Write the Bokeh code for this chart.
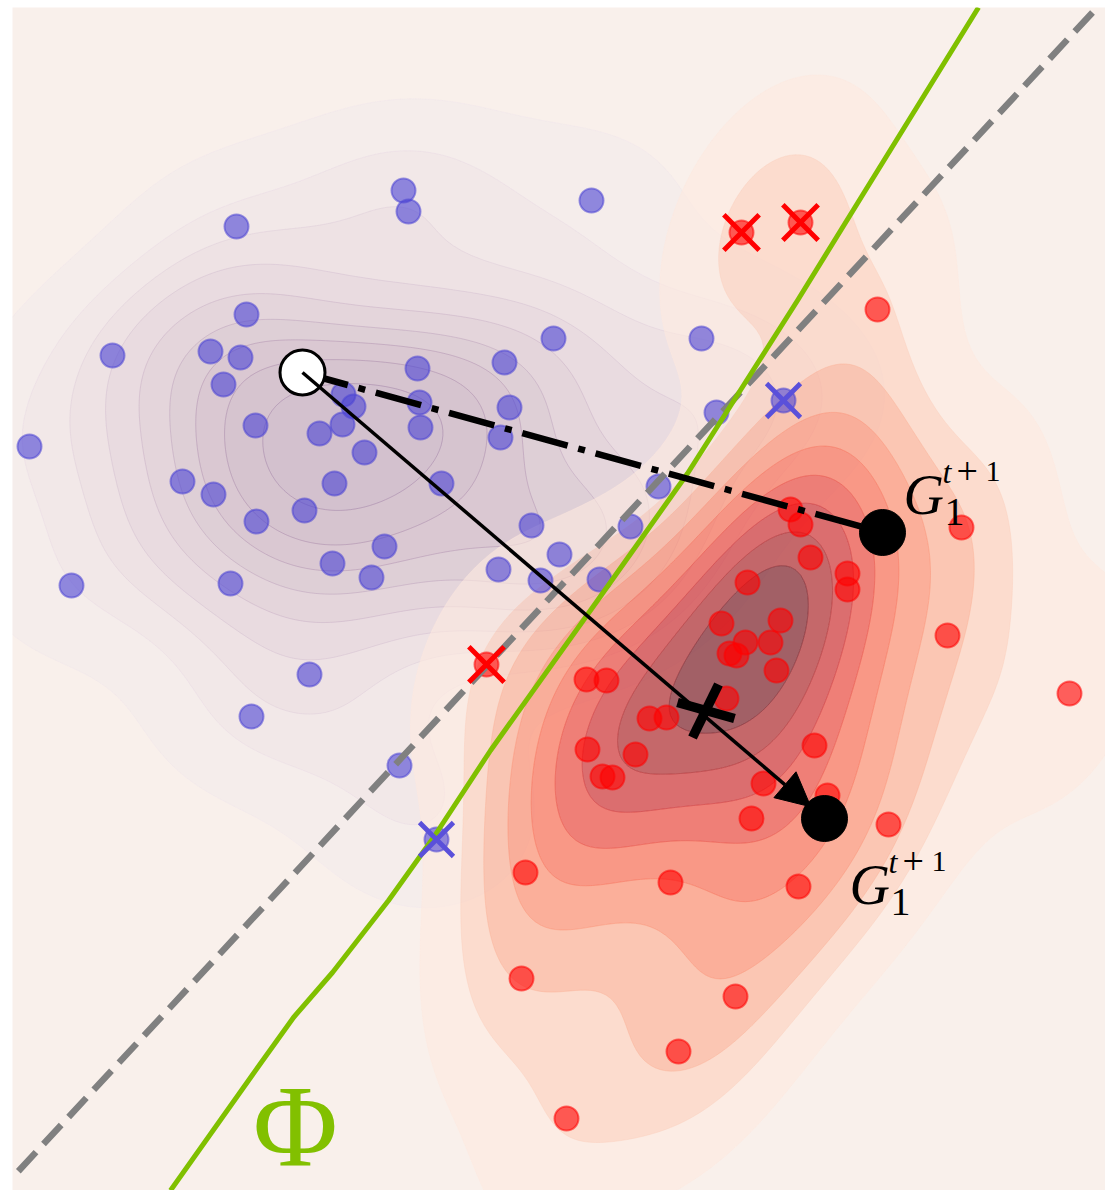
import numpy as np
from bokeh.plotting import figure
from bokeh.models import Range1d, Arrow, NormalHead
from bokeh.core.properties import value
from bokeh.embed import file_html
from bokeh.resources import INLINE

# ---------------- data (pixel-like units, y downwards) ----------------
blue_x = [403, 408, 591, 236, 246, 112, 210, 240, 223, 417, 504, 553, 701, 343, 353, 419,
          509, 255, 319, 342, 420, 500, 364, 29, 182, 213, 334, 441, 304, 256, 384, 332,
          371, 531, 559, 498, 540, 71, 230, 716, 658, 630, 599, 309, 251, 399]
blue_y = [190, 211, 200, 226, 314, 355, 351, 357, 384, 368, 362, 338, 338, 394, 406, 402,
          407, 425, 433, 424, 427, 437, 452, 446, 481, 494, 483, 483, 510, 521, 546, 563,
          577, 525, 554, 569, 580, 585, 583, 412, 486, 526, 579, 674, 716, 765]
blue_miss_x = [783, 436]
blue_miss_y = [400, 839]

red_x = [877, 961, 790, 800, 810, 847, 847, 747, 721, 780, 745, 770, 729, 736, 776, 586,
         606, 726, 649, 666, 587, 635, 814, 602, 612, 763, 827, 751, 888, 947, 1069, 670,
         798, 525, 521, 735, 678, 566]
red_y = [309, 527, 509, 524, 557, 573, 589, 582, 623, 620, 642, 642, 653, 655, 670, 679,
         680, 698, 718, 717, 749, 754, 745, 776, 777, 783, 795, 818, 824, 635, 693, 882,
         886, 872, 978, 996, 1051, 1118]
red_miss_x = [741, 800, 486]
red_miss_y = [232, 222, 664]

old_center_x = [302]
old_center_y = [372]
new_center_x = [882, 824]
new_center_y = [532, 818]
centroid_x = [703]
centroid_y = [710]

boundary_x = [978, 863, 797, 687, 597, 490, 433, 388, 332, 293, 260, 170]
boundary_y = [7, 193, 300, 473, 600, 750, 837, 900, 972, 1017, 1063, 1190]
prior_x = [1092, 12]
prior_y = [12, 1177]

REDS = ["#fff5f0", "#fee0d2", "#fcbba1", "#fc9272", "#fb6a4a", "#ef3b2c", "#cb181d", "#a50f15", "#67000d"]
MAUVES = ["#f2ecf2", "#e8dce7", "#d8c4d8", "#c6abc8", "#b293b6", "#9d7aa3", "#895f91", "#7a4f86", "#704380"]


def interp(anchors, t):
    rgb = np.array([[int(c[i:i + 2], 16) for i in (1, 3, 5)] for c in anchors], float)
    t = min(max(float(t), 0.0), 1.0)
    pos = t * (len(anchors) - 1)
    i = min(int(pos), len(anchors) - 2)
    f = pos - i
    c = rgb[i] * (1 - f) + rgb[i + 1] * f
    return "#%02x%02x%02x" % tuple(int(round(v)) for v in c)


def kde_grid(px, py, gx, gy, adjust):
    pts = np.vstack([px, py]).astype(float)
    n = pts.shape[1]
    factor = n ** (-1.0 / 6.0) * adjust
    cov = np.cov(pts) * factor ** 2
    inv = np.linalg.inv(cov)
    norm = 1.0 / (2 * np.pi * np.sqrt(np.linalg.det(cov)) * n)
    X, Y = np.meshgrid(gx, gy)
    dx = X[..., None] - pts[0]
    dy = Y[..., None] - pts[1]
    q = inv[0, 0] * dx * dx + 2 * inv[0, 1] * dx * dy + inv[1, 1] * dy * dy
    return norm * np.exp(-0.5 * q).sum(-1)


def iso_levels(z, props):
    vals = np.sort(z.ravel())[::-1]
    cum = np.cumsum(vals) / vals.sum()
    idx = np.searchsorted(cum, 1 - np.asarray(props))
    lv = np.take(vals, idx, mode="clip").astype(float)
    lv[-1] = z.max() * 1.0001
    return lv


gx = np.linspace(-300, 1400, 341)
gy = np.linspace(-250, 1500, 351)
props = np.linspace(0.05, 1, 10)

p = figure(width=1105, height=1190, x_range=Range1d(12, 1105), y_range=Range1d(1190, 7),
           output_backend="svg", toolbar_location=None,
           x_axis_location=None, y_axis_location=None,
           min_border_left=12, min_border_right=0, min_border_top=7, min_border_bottom=0,
           background_fill_color="#f9f0eb", border_fill_color="white", outline_line_color=None)
p.grid.visible = False


def add_kde(xs, ys, cmap, alpha, lalpha, adjust, t0):
    z = kde_grid(xs, ys, gx, gy, adjust)
    lv = iso_levels(z, props)
    nb = len(lv) - 1
    fills = [interp(cmap, t0 + (1 - t0) * i / (nb - 1)) for i in range(nb)]
    lines = [interp(cmap, t0 + (1 - t0) * min(i, nb - 1) / (nb - 1)) for i in range(nb + 1)]
    p.contour(gx, gy, z, list(lv), fill_color=fills, fill_alpha=alpha,
              line_color=lines, line_alpha=lalpha, line_width=1)


add_kde(blue_x + blue_miss_x, blue_y + blue_miss_y, MAUVES, 0.27, 0.28, 0.95, 0.06)
add_kde(red_x + red_miss_x, red_y + red_miss_y, REDS, 0.6, 0.4, 1.0, 0.07)

# points
BLUE = "#4b43d3"
RED = "#ff0000"
p.scatter(blue_x + blue_miss_x, blue_y + blue_miss_y, size=24, marker="circle",
          fill_color=BLUE, fill_alpha=0.6, line_color=BLUE, line_alpha=0.55, line_width=2)
p.scatter(red_x + red_miss_x, red_y + red_miss_y, size=24, marker="circle",
          fill_color=RED, fill_alpha=0.6, line_color=RED, line_alpha=0.55, line_width=2)

# boundaries
p.line(prior_x, prior_y, line_color="#808080", line_width=6.5, line_dash="26 11", line_cap="butt")
p.line(boundary_x, boundary_y, line_color="#80c000", line_width=5, line_join="round")

# dash-dot link old centre -> first new centre
p.line([old_center_x[0], new_center_x[0]], [old_center_y[0], new_center_y[0]],
       line_color="black", line_width=6.5, line_dash="47 11 7 11", line_cap="butt")

# arrow old centre -> second new centre
ux = new_center_x[1] - old_center_x[0]
uy = new_center_y[1] - old_center_y[0]
ul = (ux ** 2 + uy ** 2) ** 0.5
tip_x = new_center_x[1] - 18 * ux / ul
tip_y = new_center_y[1] - 18 * uy / ul
p.add_layout(Arrow(end=NormalHead(size=34, fill_color="black", line_color="black", line_width=1),
                   x_start=old_center_x[0], y_start=old_center_y[0], x_end=tip_x, y_end=tip_y,
                   line_color="black", line_width=3.5))

# centroid cross
cx, cy = centroid_x[0], centroid_y[0]
p.segment(x0=[cx - 26, cx + 15], y0=[cy - 8, cy - 26], x1=[cx + 31, cx - 11], y1=[cy + 8, cy + 27],
          line_color="black", line_width=9.5, line_cap="butt")

# misclassified markers
p.scatter(red_miss_x, red_miss_y, marker="x", size=50, line_color=RED, line_width=5)
p.scatter(blue_miss_x, blue_miss_y, marker="x", size=48, line_color="#5a50da", line_width=4.8)

# centres
p.scatter(old_center_x, old_center_y, marker="circle", size=45, fill_color="white",
          line_color="black", line_width=3)
p.scatter(new_center_x, new_center_y, marker="circle", size=46, fill_color="black",
          line_color="black", line_width=1)

# labels G_1^{t+1}
SERIF = value("Liberation Serif")
for gx0, gb in [(903, 494), (849, 884)]:
    p.text(x=[gx0], y=[gb], text=["G"], text_font=SERIF, text_font_size="56px",
           text_font_style="italic", text_baseline="alphabetic", text_color="black")
    p.text(x=[gx0 + 39], y=[gb - 23], text=["t"], text_font=SERIF, text_font_size="32px",
           text_font_style="italic", text_baseline="alphabetic", text_color="black")
    p.text(x=[gx0 + 53], y=[gb - 23], text=["+"], text_font=SERIF, text_font_size="38px",
           text_baseline="alphabetic", text_color="black")
    p.text(x=[gx0 + 82], y=[gb - 23], text=["1"], text_font=SERIF, text_font_size="30px",
           text_baseline="alphabetic", text_color="black")
    p.text(x=[gx0 + 41], y=[gb + 17], text=["1"], text_font=SERIF, text_font_size="40px",
           text_baseline="alphabetic", text_color="black")

p.text(x=[295], y=[1190], text=["Φ"], text_font=SERIF, text_font_size="116px",
       text_align="center", text_baseline="bottom", text_color="#82c000")

open("out.html", "w").write(file_html(p, INLINE))
